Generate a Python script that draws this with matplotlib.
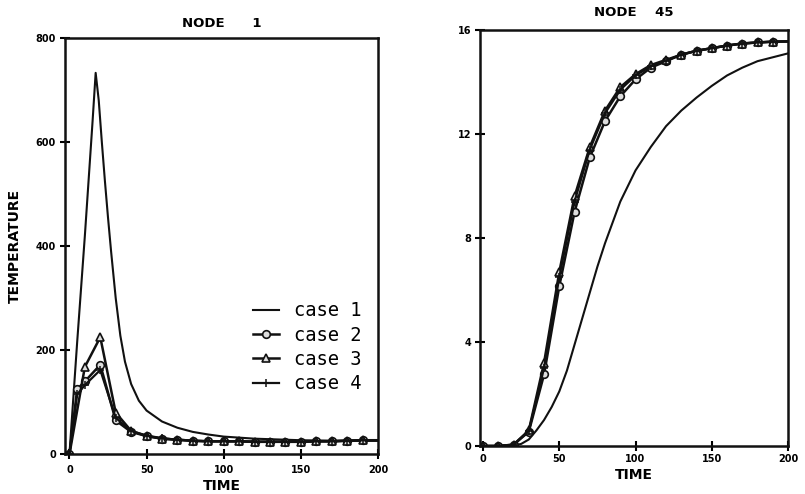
import matplotlib
matplotlib.use("Agg")
import matplotlib.pyplot as plt

# ---------------- data: NODE 1 ----------------
t1_case1 = [0, 5, 10, 15, 17, 19, 21, 23, 25, 27, 30, 33, 36, 40, 45, 50, 60, 70, 80, 90, 100, 120, 150, 175, 200]
y1_case1 = [0, 215, 420, 640, 733, 680, 600, 525, 455, 390, 300, 228, 178, 135, 103, 84, 63, 51, 43, 38, 34, 30, 27, 26, 26]

t1_case2 = [0, 5, 10, 20, 30, 40, 50, 60, 70, 80, 90, 100, 110, 120, 130, 140, 150, 160, 170, 180, 190, 200]
y1_case2 = [0, 125, 140, 172, 65, 43, 35, 30, 28, 26, 25, 25, 25, 24, 24, 24, 24, 25, 25, 26, 27, 27]

t1_case3 = [0, 10, 20, 30, 40, 50, 60, 70, 80, 90, 100, 110, 120, 130, 140, 150, 160, 170, 180, 190, 200]
y1_case3 = [0, 168, 225, 80, 45, 35, 30, 28, 26, 25, 25, 25, 24, 24, 24, 24, 25, 25, 26, 27, 27]

t1_case4 = [0, 5, 10, 20, 30, 40, 50, 60, 70, 80, 90, 100, 110, 120, 130, 140, 150, 160, 170, 180, 190, 200]
y1_case4 = [0, 115, 133, 162, 70, 45, 36, 31, 28, 26, 25, 25, 25, 24, 24, 24, 24, 25, 25, 26, 27, 27]

# ---------------- data: NODE 45 ----------------
t45_case1 = [0, 10, 20, 25, 30, 35, 40, 45, 50, 55, 60, 65, 70, 75, 80, 90, 100, 110, 120, 130, 140, 150, 160, 170, 180, 190, 200]
y45_case1 = [0, 0, 0.02, 0.08, 0.25, 0.6, 1.0, 1.5, 2.1, 2.9, 3.9, 4.9, 5.9, 6.9, 7.8, 9.4, 10.6, 11.5, 12.3, 12.9, 13.4, 13.85, 14.25, 14.55, 14.8, 14.95, 15.1]

t45 = [0, 10, 20, 30, 40, 50, 60, 70, 80, 90, 100, 110, 120, 130, 140, 150, 160, 170, 180, 190, 200]
y45_case2 = [0, 0, 0.05, 0.55, 2.75, 6.15, 9.0, 11.1, 12.5, 13.45, 14.1, 14.55, 14.8, 15.05, 15.2, 15.3, 15.4, 15.48, 15.52, 15.55, 15.56]
y45_case3 = [0, 0, 0.05, 0.6, 3.2, 6.7, 9.6, 11.5, 12.9, 13.8, 14.3, 14.65, 14.85, 15.05, 15.2, 15.3, 15.4, 15.48, 15.52, 15.55, 15.56]
y45_case4 = [0, 0, 0.05, 0.58, 3.0, 6.5, 9.4, 11.4, 12.8, 13.7, 14.25, 14.6, 14.82, 15.05, 15.2, 15.3, 15.4, 15.48, 15.52, 15.55, 15.56]

labels = ["case 1", "case 2", "case 3", "case 4"]
x_ticks = [0, 50, 100, 150, 200]
y1_ticks = [0, 200, 400, 600, 800]
y45_ticks = [0, 4, 8, 12, 16]

fig = plt.figure(figsize=(8.05, 4.94), dpi=100)
ax1 = fig.add_axes([0.0807, 0.0804, 0.3888, 0.8427])
ax2 = fig.add_axes([0.5963, 0.0972, 0.3826, 0.8421])

ink = "#111111"
marker_style = dict(color=ink, lw=1.8, markersize=5.5, markeredgewidth=1.2)
mev = slice(0, -1)

def draw(ax, tc1, yc1, series):
    ax.plot(tc1, yc1, color=ink, lw=1.5, label=labels[0])
    for (tx, ty), mk, lab in zip(series, ["o", "^", "+"], labels[1:]):
        if mk == "+":
            ax.plot(tx, ty, marker="+", color=ink, lw=1.6, markersize=6,
                    markeredgewidth=1.1, markevery=mev, label=lab)
        else:
            ax.plot(tx, ty, marker=mk, markerfacecolor="#dddddd",
                    markeredgecolor=ink, markevery=mev, label=lab, **marker_style)

draw(ax1, t1_case1, y1_case1,
     [(t1_case2, y1_case2), (t1_case3, y1_case3), (t1_case4, y1_case4)])
draw(ax2, t45_case1, y45_case1,
     [(t45, y45_case2), (t45, y45_case3), (t45, y45_case4)])

for ax, yt, xl, xp in [(ax1, y1_ticks, (-2.9, 198), 4), (ax2, y45_ticks, (-2, 196), 2)]:
    ax.set_xlim(*xl)
    ax.set_ylim(yt[0], yt[-1])
    ax.set_xticks(x_ticks)
    ax.set_yticks(yt)
    ax.tick_params(direction="inout", length=7, width=1.5, labelsize=7, pad=3,
                   top=False, right=False)
    ax.tick_params(axis="x", pad=xp)
    for lab in ax.get_xticklabels() + ax.get_yticklabels():
        lab.set_fontweight("bold")
    for sp in ax.spines.values():
        sp.set_linewidth(1.8)
        sp.set_color(ink)
    ax.set_xlabel("TIME", fontsize=10, fontweight="bold", labelpad=3)

ax1.set_title("NODE      1", fontsize=9.5, fontweight="bold", pad=8)
ax2.set_title("NODE    45", fontsize=9.5, fontweight="bold", pad=10)
ax1.set_ylabel("TEMPERATURE", fontsize=10, fontweight="bold", labelpad=10)

leg = ax1.legend(loc="lower right", bbox_to_anchor=(0.973, 0.128), frameon=False,
                 prop={"family": "DejaVu Sans Mono", "size": 13.5},
                 handlelength=1.4, handletextpad=0.8,
                 labelspacing=0.29, borderaxespad=0)

fig.savefig("out.png", dpi=100)
